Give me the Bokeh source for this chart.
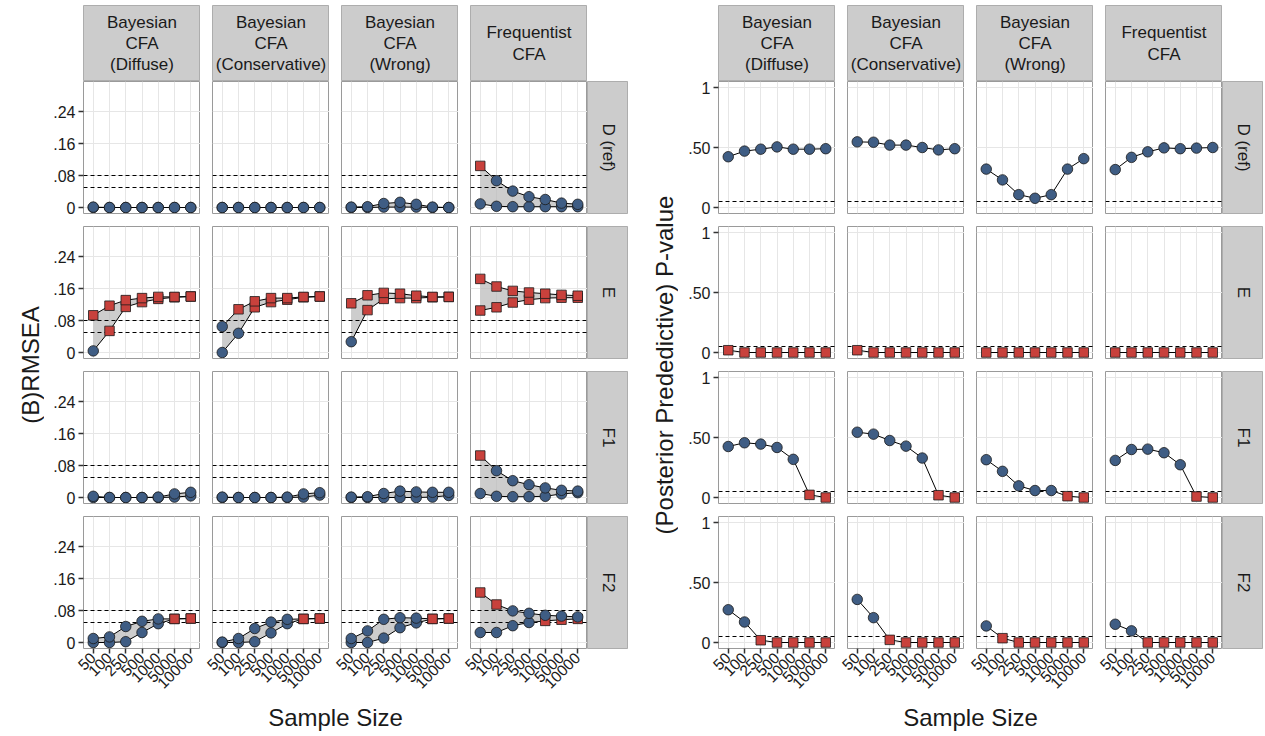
import math
from bokeh.plotting import figure
from bokeh.layouts import row, column
from bokeh.models import Range1d, FactorRange, FixedTicker, ColumnDataSource, Spacer
from bokeh.core.properties import value
from bokeh.embed import file_html
from bokeh.resources import INLINE

# ---------------- data ----------------
SAMPLE_SIZES = ["50", "100", "250", "500", "1000", "5000", "10000"]
METHOD_LABELS = ["Bayesian\nCFA\n(Diffuse)", "Bayesian\nCFA\n(Conservative)",
                 "Bayesian\nCFA\n(Wrong)", "Frequentist\nCFA"]
MODEL_LABELS = ["D (ref)", "E", "F1", "F2"]

RMSEA_TICKS = [0, 0.08, 0.16, 0.24]
RMSEA_TICK_LABELS = ["0", ".08", ".16", ".24"]
RMSEA_CUTOFFS = [0.05, 0.08]
PPP_TICKS = [0, 0.5, 1]
PPP_TICK_LABELS = ["0", ".50", "1"]
PPP_CUTOFFS = [0.05]

# (B)RMSEA, one list per method (Diffuse, Conservative, Wrong, Frequentist)
RMSEA_D_HI = [[0.001, 0, 0, 0, 0, 0, 0],
              [0, 0, 0, 0, 0, 0, 0],
              [0.001, 0.002, 0.010, 0.013, 0.008, 0.001, 0],
              [0.104, 0.067, 0.041, 0.027, 0.020, 0.011, 0.008]]
RMSEA_D_LO = [[0, 0, 0, 0, 0, 0, 0],
              [0, 0, 0, 0, 0, 0, 0],
              [0, 0, 0.001, 0.001, 0.001, 0, 0],
              [0.009, 0.003, 0.002, 0.002, 0.002, 0.002, 0.002]]
RMSEA_D_HI_FLAG = [[0, 0, 0, 0, 0, 0, 0], [0, 0, 0, 0, 0, 0, 0],
                   [0, 0, 0, 0, 0, 0, 0], [1, 0, 0, 0, 0, 0, 0]]
RMSEA_D_LO_FLAG = [[0, 0, 0, 0, 0, 0, 0], [0, 0, 0, 0, 0, 0, 0],
                   [0, 0, 0, 0, 0, 0, 0], [0, 0, 0, 0, 0, 0, 0]]

RMSEA_E_HI = [[0.093, 0.117, 0.131, 0.136, 0.139, 0.139, 0.140],
              [0.065, 0.108, 0.128, 0.136, 0.136, 0.139, 0.140],
              [0.123, 0.143, 0.149, 0.147, 0.142, 0.139, 0.139],
              [0.184, 0.165, 0.154, 0.150, 0.147, 0.144, 0.142]]
RMSEA_E_LO = [[0.004, 0.054, 0.114, 0.126, 0.134, 0.138, 0.140],
              [0.000, 0.048, 0.113, 0.126, 0.132, 0.138, 0.140],
              [0.027, 0.106, 0.134, 0.136, 0.136, 0.138, 0.139],
              [0.105, 0.113, 0.125, 0.132, 0.136, 0.137, 0.137]]
RMSEA_E_HI_FLAG = [[1, 1, 1, 1, 1, 1, 1], [0, 1, 1, 1, 1, 1, 1],
                   [1, 1, 1, 1, 1, 1, 1], [1, 1, 1, 1, 1, 1, 1]]
RMSEA_E_LO_FLAG = [[0, 1, 1, 1, 1, 1, 1], [0, 0, 1, 1, 1, 1, 1],
                   [0, 1, 1, 1, 1, 1, 1], [1, 1, 1, 1, 1, 1, 1]]

RMSEA_F1_HI = [[0.003, 0, 0, 0, 0.001, 0.009, 0.013],
               [0.001, 0, 0, 0, 0.001, 0.009, 0.012],
               [0.001, 0.002, 0.010, 0.016, 0.014, 0.013, 0.013],
               [0.105, 0.067, 0.042, 0.032, 0.024, 0.018, 0.016]]
RMSEA_F1_LO = [[0, 0, 0, 0, 0, 0.001, 0.004],
               [0, 0, 0, 0, 0, 0.001, 0.006],
               [0, 0, 0, 0, 0, 0.001, 0.005],
               [0.010, 0.003, 0.002, 0.002, 0.003, 0.009, 0.012]]
RMSEA_F1_HI_FLAG = [[0, 0, 0, 0, 0, 0, 0], [0, 0, 0, 0, 0, 0, 0],
                    [0, 0, 0, 0, 0, 0, 0], [1, 0, 0, 0, 0, 0, 0]]
RMSEA_F1_LO_FLAG = [[0, 0, 0, 0, 0, 0, 0], [0, 0, 0, 0, 0, 0, 0],
                    [0, 0, 0, 0, 0, 0, 0], [0, 0, 0, 0, 0, 0, 0]]

RMSEA_F2_HI = [[0.010, 0.014, 0.040, 0.053, 0.059, 0.059, 0.060],
               [0.001, 0.010, 0.035, 0.051, 0.058, 0.059, 0.060],
               [0.010, 0.029, 0.058, 0.062, 0.061, 0.059, 0.060],
               [0.125, 0.095, 0.079, 0.073, 0.068, 0.066, 0.064]]
RMSEA_F2_LO = [[0, 0, 0.002, 0.025, 0.047, 0.059, 0.060],
               [0, 0, 0.002, 0.024, 0.047, 0.059, 0.060],
               [0, 0, 0.011, 0.037, 0.049, 0.059, 0.060],
               [0.025, 0.025, 0.042, 0.050, 0.054, 0.057, 0.059]]
RMSEA_F2_HI_FLAG = [[0, 0, 0, 0, 0, 1, 1], [0, 0, 0, 0, 0, 1, 1],
                    [0, 0, 0, 0, 0, 1, 1], [1, 1, 0, 0, 0, 0, 0]]
RMSEA_F2_LO_FLAG = [[0, 0, 0, 0, 0, 1, 1], [0, 0, 0, 0, 0, 1, 1],
                    [0, 0, 0, 0, 0, 1, 1], [0, 0, 0, 0, 1, 1, 1]]

# (Posterior Predictive) p-values, one list per method
PPP_D = [[0.423, 0.470, 0.486, 0.505, 0.486, 0.486, 0.490],
         [0.547, 0.544, 0.520, 0.520, 0.500, 0.480, 0.490],
         [0.320, 0.230, 0.107, 0.077, 0.107, 0.320, 0.407],
         [0.316, 0.418, 0.464, 0.497, 0.490, 0.495, 0.500]]
PPP_E = [[0.019, 0, 0, 0, 0, 0, 0],
         [0.019, 0, 0, 0, 0, 0, 0],
         [0, 0, 0, 0, 0, 0, 0],
         [0, 0, 0, 0, 0, 0, 0]]
PPP_F1 = [[0.425, 0.456, 0.445, 0.417, 0.318, 0.022, 0],
          [0.544, 0.528, 0.475, 0.428, 0.329, 0.019, 0],
          [0.315, 0.218, 0.097, 0.058, 0.058, 0.011, 0],
          [0.309, 0.400, 0.403, 0.373, 0.273, 0.008, 0]]
PPP_F2 = [[0.273, 0.171, 0.019, 0, 0, 0, 0],
          [0.359, 0.207, 0.022, 0, 0, 0, 0],
          [0.138, 0.036, 0, 0, 0, 0, 0],
          [0.152, 0.097, 0, 0, 0, 0, 0]]

RMSEA_HI = [RMSEA_D_HI, RMSEA_E_HI, RMSEA_F1_HI, RMSEA_F2_HI]
RMSEA_LO = [RMSEA_D_LO, RMSEA_E_LO, RMSEA_F1_LO, RMSEA_F2_LO]
RMSEA_HI_FLAG = [RMSEA_D_HI_FLAG, RMSEA_E_HI_FLAG, RMSEA_F1_HI_FLAG, RMSEA_F2_HI_FLAG]
RMSEA_LO_FLAG = [RMSEA_D_LO_FLAG, RMSEA_E_LO_FLAG, RMSEA_F1_LO_FLAG, RMSEA_F2_LO_FLAG]
PPP = [PPP_D, PPP_E, PPP_F1, PPP_F2]

# ---------------- style ----------------
FONT = value("Liberation Sans")
BLUE = "#3f5d84"
RED = "#c8413c"
GRID = "#e6e6e6"
BORDER = "#9a9a9a"
STRIP = "#cccccc"
TXT = "#1a1a1a"

TOP_PAD = 5
FRAME_W, FRAME_H = 117, 132
GAP = 12
STRIP_H = 76
STRIP_W = 41
BOTTOM_AX = 55
XTITLE_H = 30
# top / bottom white borders of each panel row (gap of 13 px between rows)
ROW_TOP = [0, 6, 6, 6]
ROW_BOTTOM = [7, 7, 7, BOTTOM_AX]


def base_fig(width, height, xr, yr, left, right, top, bottom, xloc=None, yloc=None):
    p = figure(width=width, height=height, x_range=xr, y_range=yr,
               output_backend="svg", toolbar_location=None, tools="",
               x_axis_location=xloc, y_axis_location=yloc,
               min_border_left=left, min_border_right=right,
               min_border_top=top, min_border_bottom=bottom)
    p.border_fill_color = "white"
    p.background_fill_color = "white"
    return p


def panel(kind, mi, ci, axis_w):
    is_left = ci == 0
    is_bottom = mi == 3
    top = ROW_TOP[mi]
    bottom = ROW_BOTTOM[mi]
    left = axis_w if is_left else GAP
    if kind == "rmsea":
        yr = Range1d(-0.015, 0.315)
        ticks, labels = RMSEA_TICKS, RMSEA_TICK_LABELS
    else:
        yr = Range1d(-0.05, 1.05)
        ticks, labels = PPP_TICKS, PPP_TICK_LABELS
    xr = FactorRange(factors=SAMPLE_SIZES, range_padding=0.2 / 7,
                     range_padding_units="percent")
    p = base_fig(left + FRAME_W, top + FRAME_H + bottom, xr, yr, left, 0, top, bottom,
                 xloc="below" if is_bottom else None,
                 yloc="left" if is_left else None)
    p.outline_line_color = BORDER
    p.outline_line_width = 1
    p.xgrid.grid_line_color = GRID
    p.ygrid.grid_line_color = GRID
    p.ygrid.ticker = FixedTicker(ticks=ticks)

    if is_left:
        ax = p.yaxis[0]
        ax.ticker = FixedTicker(ticks=ticks)
        ax.major_label_overrides = {t: l for t, l in zip(ticks, labels)}
        ax.major_label_text_font = "Liberation Sans"
        ax.major_label_text_font_size = "16px"
        ax.major_label_text_color = TXT
        ax.axis_line_color = None
        ax.major_tick_line_color = "#333333"
        ax.major_tick_line_width = 1.5
        ax.major_tick_out = 5
        ax.major_tick_in = 0
        ax.minor_tick_line_color = None
        ax.major_label_standoff = 3
    if is_bottom:
        ax = p.xaxis[0]
        ax.major_label_orientation = math.pi / 4
        ax.major_label_text_font = "Liberation Sans"
        ax.major_label_text_font_size = "15.5px"
        ax.major_label_text_color = TXT
        ax.axis_line_color = None
        ax.major_tick_line_color = "#333333"
        ax.major_tick_line_width = 1.5
        ax.major_tick_out = 5
        ax.major_tick_in = 0
        ax.major_label_standoff = 2

    def pts(ys, flags):
        return ColumnDataSource(dict(
            x=SAMPLE_SIZES, y=ys,
            marker=["square" if f else "circle" for f in flags],
            size=[9.5 if f else 10.5 for f in flags],
            color=[RED if f else BLUE for f in flags]))

    if kind == "rmsea":
        hi = RMSEA_HI[mi][ci]
        lo = RMSEA_LO[mi][ci]
        src = ColumnDataSource(dict(x=SAMPLE_SIZES, hi=hi, lo=lo))
        p.varea(x="x", y1="lo", y2="hi", source=src, fill_color="#b8b8b8", fill_alpha=0.7)
        p.hspan(y=RMSEA_CUTOFFS, line_color="black", line_dash="4 3", line_width=1)
        p.line(x="x", y="hi", source=src, line_color="black", line_width=1)
        p.line(x="x", y="lo", source=src, line_color="black", line_width=1)
        for ys, fl in ((lo, RMSEA_LO_FLAG[mi][ci]), (hi, RMSEA_HI_FLAG[mi][ci])):
            p.scatter(x="x", y="y", marker="marker", size="size", fill_color="color",
                      line_color=TXT, line_width=0.8, source=pts(ys, fl))
    else:
        ys = PPP[mi][ci]
        flags = [1 if v < 0.05 else 0 for v in ys]
        src = ColumnDataSource(dict(x=SAMPLE_SIZES, y=ys))
        p.hspan(y=PPP_CUTOFFS, line_color="black", line_dash="4 3", line_width=1)
        p.line(x="x", y="y", source=src, line_color="black", line_width=1)
        p.scatter(x="x", y="y", marker="marker", size="size", fill_color="color",
                  line_color=TXT, line_width=0.8, source=pts(ys, flags))
    return p


def top_strip(label, left):
    s = base_fig(left + FRAME_W, STRIP_H, Range1d(0, 1), Range1d(0, 1), left, 0, 0, 0)
    s.grid.visible = False
    s.background_fill_color = STRIP
    s.outline_line_color = "#adadad"
    s.text(x=[0.5], y=[0.5], text=[label], text_align="center", text_baseline="middle",
           text_font=FONT, text_font_size="17px", text_color=TXT, text_line_height=1.12)
    return s


def side_strip(label, mi):
    top = ROW_TOP[mi]
    bottom = ROW_BOTTOM[mi]
    s = base_fig(STRIP_W, top + FRAME_H + bottom, Range1d(0, 1), Range1d(0, 1), 0, 0, top, bottom)
    s.grid.visible = False
    s.background_fill_color = STRIP
    s.outline_line_color = "#adadad"
    s.text(x=[0.5], y=[0.5], text=[label], angle=-math.pi / 2, text_align="center",
           text_baseline="middle", text_font=FONT, text_font_size="17px", text_color=TXT)
    return s


def title_fig(text, width, height, cx, cy, angle):
    t = base_fig(width, height, Range1d(0, width), Range1d(0, height), 0, 0, 0, 0)
    t.grid.visible = False
    t.outline_line_color = None
    t.text(x=[cx], y=[height - cy], text=[text], angle=angle, text_align="center",
           text_baseline="middle", text_font=FONT, text_font_size="24px", text_color=TXT)
    return t


def group(kind, ytitle, ytitle_w, axis_w, ytitle_cx):
    strips = [top_strip(lab, axis_w if i == 0 else GAP) for i, lab in enumerate(METHOD_LABELS)]
    strip_row = row(*strips, Spacer(width=STRIP_W, height=STRIP_H))
    rows_w = axis_w + FRAME_W + 3 * (GAP + FRAME_W) + STRIP_W
    rows = [Spacer(width=rows_w, height=TOP_PAD), strip_row]
    for mi in range(4):
        figs = [panel(kind, mi, ci, axis_w) for ci in range(4)]
        figs.append(side_strip(MODEL_LABELS[mi], mi))
        rows.append(row(*figs))
    body_h = TOP_PAD + STRIP_H + sum(ROW_TOP) + sum(ROW_BOTTOM) + 4 * FRAME_H
    mid_rows = (TOP_PAD + STRIP_H + (body_h - BOTTOM_AX)) / 2
    yt = title_fig(ytitle, ytitle_w, body_h, ytitle_cx, mid_rows, math.pi / 2)
    body_w = ytitle_w + rows_w
    frames_mid = ytitle_w + axis_w + (4 * FRAME_W + 3 * GAP) / 2
    xt = title_fig("Sample Size", body_w, XTITLE_H, frames_mid, 14, 0)
    return column(row(yt, column(*rows)), xt)


left_group = group("rmsea", "(B)RMSEA", 44, 39, 30)
right_group = group("ppp", "(Posterior Prededictive) P-value", 50, 40, 36)
layout = row(left_group, right_group)

open("out.html", "w").write(file_html(layout, INLINE, "chart"))
